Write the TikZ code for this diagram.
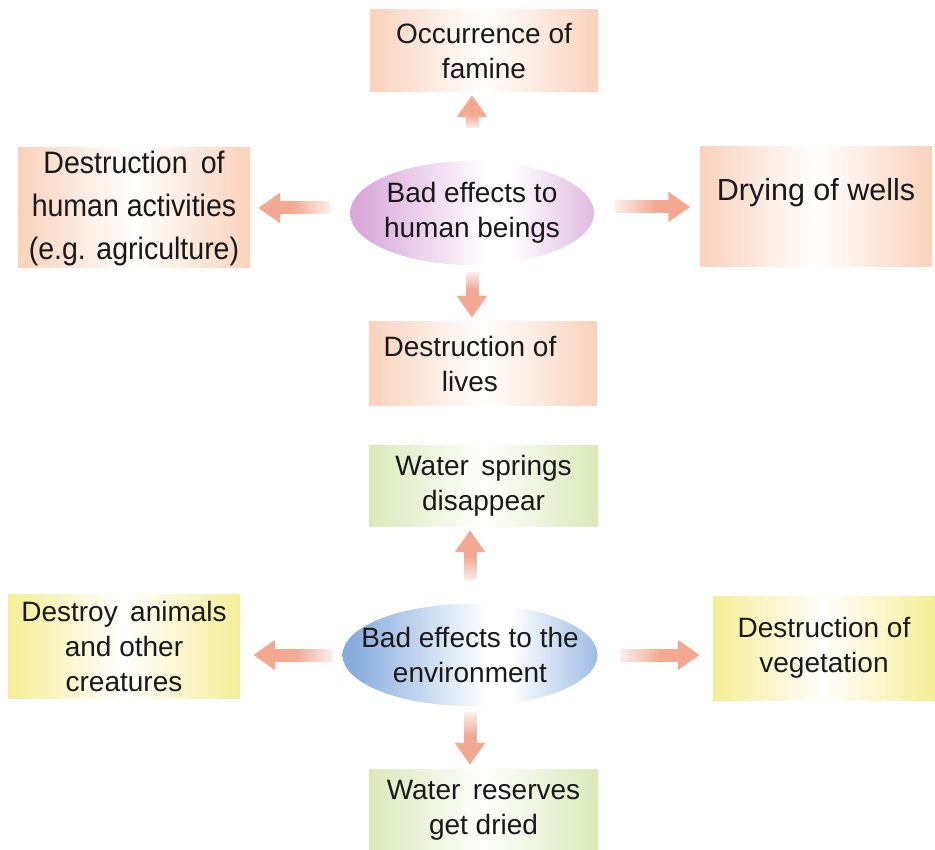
\documentclass[tikz,border=0pt]{standalone}
\usepackage{fontspec}
\setmainfont{Liberation Sans}
\newfontfamily\condf[FakeStretch=0.92]{Liberation Sans}
\usetikzlibrary{arrows.meta,shapes.geometric,fadings}
\definecolor{salm}{RGB}{250,210,188}
\definecolor{yel}{RGB}{245,238,150}
\definecolor{grn}{RGB}{218,233,185}
\definecolor{pinkc}{RGB}{218,168,218}
\definecolor{bluec}{RGB}{135,172,222}
\definecolor{arrc}{RGB}{242,168,145}
\definecolor{txt}{RGB}{25,25,25}
\pgfdeclarehorizontalshading{pinkh}{100bp}{color(0bp)=(pinkc);color(27bp)=(pinkc);color(53bp)=(white);color(58bp)=(white);color(75bp)=(pinkc!80);color(100bp)=(pinkc!80)}
\pgfdeclarehorizontalshading{blueh}{100bp}{color(0bp)=(bluec);color(27bp)=(bluec);color(53bp)=(white);color(58bp)=(white);color(75bp)=(bluec!80);color(100bp)=(bluec!80)}
\tikzfading[name=fadeUp, top color=transparent!100, bottom color=transparent!15]
\tikzfading[name=fadeDown, top color=transparent!15, bottom color=transparent!100]
\tikzfading[name=fadeLeft, left color=transparent!100, right color=transparent!15]
\tikzfading[name=fadeRight, left color=transparent!15, right color=transparent!100]
\tikzset{
  box/.style={rectangle, inner sep=0pt, align=center, text=txt,
    font=\fontsize{28}{35}\selectfont},
  salbox/.style={box, left color=salm, right color=salm, middle color=white},
  yelbox/.style={box, left color=yel, right color=yel, middle color=white},
  grnbox/.style={box, left color=grn, right color=grn, middle color=white},
  ell/.style={ellipse, inner xsep=-24pt, inner ysep=-12pt, align=center, text=txt,
    font=\fontsize{28}{35}\selectfont},
  conn/.style={draw=arrc, line width=13pt, -{Triangle[width=29pt,length=22pt]}},
  fadebox/.style={fill=white},
}
\begin{document}
\begin{tikzpicture}[x=1pt,y=-1pt]
\useasboundingbox (0,0) rectangle (935,850);
% human beings
\node[ell, shading=pinkh, minimum width=244pt, minimum height=104pt] (hum) at (472,213) {Bad effects to\\human beings};
\node[salbox, minimum width=228pt, minimum height=82pt] (fam) at (484,51) {Occurrence of\\famine};
\node[salbox, minimum width=232pt, minimum height=120pt, font=\condf\fontsize{31}{43}\selectfont] (act) at (134,208) {Destruction\, of\\human activities\\(e.g. agriculture)};
\node[salbox, minimum width=231pt, minimum height=120pt, font=\fontsize{30.5}{35}\selectfont] (wel) at (816,207) {Drying of wells\\\mbox{}};
\node[salbox, minimum width=228pt, minimum height=84pt] (liv) at (483,364) {\hspace*{-26pt}Destruction of\\\hspace*{-26pt}lives};
% environment
\node[ell, shading=blueh, minimum width=255pt, minimum height=102pt] (env) at (470,655) {Bad effects to the\\environment};
\node[grnbox, minimum width=229pt, minimum height=81pt] (spr) at (483.5,485.5) {Water\, springs\\disappear};
\node[yelbox, minimum width=232pt, minimum height=104pt] (ani) at (124,646) {Destroy\, animals\\and other\\creatures};
\node[yelbox, minimum width=222pt, minimum height=104pt] (veg) at (824,648) {Destruction of\\vegetation};
\node[grnbox, minimum width=229pt, minimum height=82pt] (res) at (483.5,810) {Water\, reserves\\get dried};
% connectors human
\draw[conn, shorten <=33pt, shorten >=3pt] (hum.north) -- (hum.north |- fam.south);
\draw[conn, shorten <=20pt, shorten >=8pt] (hum.west |- act) -- (act.east);
\draw[conn, shorten <=21pt, shorten >=10pt] (hum.east |- wel) -- (wel.west);
\draw[conn, shorten <=7pt, shorten >=4pt] (hum.south) -- (hum.south |- liv.north);
% connectors environment
\draw[conn, shorten <=24pt, shorten >=4pt] (env.north) -- (env.north |- spr.south);
\draw[conn, shorten <=9.5pt, shorten >=13pt] (env.west) -- (env.west -| ani.east);
\draw[conn, shorten <=22.5pt, shorten >=13pt] (env.east) -- (env.east -| veg.west);
\draw[conn, shorten <=6pt, shorten >=4pt] (env.south) -- (env.south |- res.north);
% fading of the arrow tails
\fill[fadebox, path fading=fadeUp] (463,129) rectangle (481,114);
\fill[fadebox, path fading=fadeLeft] (292,199) rectangle (331,217);
\fill[fadebox, path fading=fadeRight] (614,199) rectangle (656,217);
\fill[fadebox, path fading=fadeDown] (463,271) rectangle (481,290);
\fill[fadebox, path fading=fadeUp] (461,581) rectangle (479,556);
\fill[fadebox, path fading=fadeLeft] (294,646) rectangle (334,664);
\fill[fadebox, path fading=fadeRight] (619,646) rectangle (661,664);
\fill[fadebox, path fading=fadeDown] (461,711) rectangle (479,736);
\end{tikzpicture}
\end{document}
